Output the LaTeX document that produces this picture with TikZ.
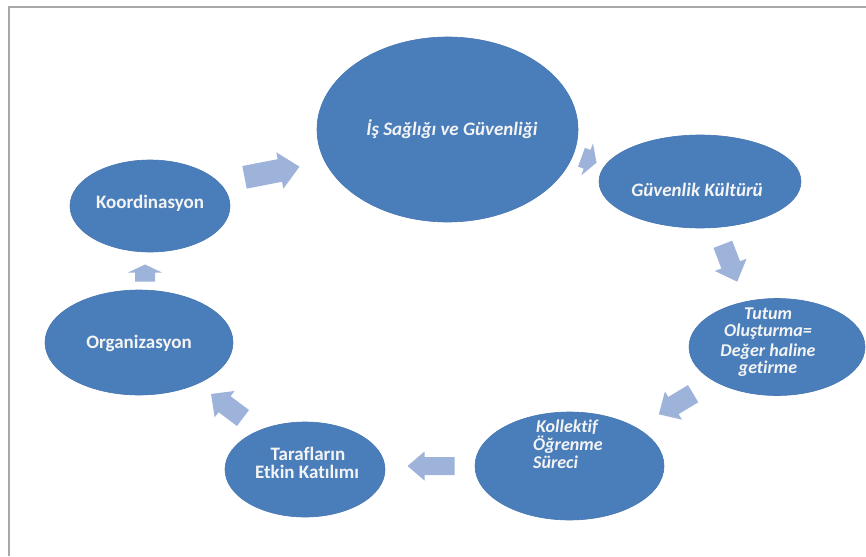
\documentclass[tikz,border=0pt]{standalone}
\usepackage{fontspec}
\setmainfont{Carlito}[Ligatures={NoCommon}]
\usetikzlibrary{shapes.geometric}
\definecolor{ellblue}{HTML}{4A7EBB}
\definecolor{ellline}{HTML}{4676B2}
\definecolor{arrblue}{HTML}{9EB3D9}
\definecolor{framegray}{HTML}{A8A8A8}
\definecolor{txtwhite}{HTML}{F4F4F4}
% #1 x, #2 y, #3 angle, #4 length, #5 head width, #6 shaft width, #7 head length
\newcommand\blockarrow[7]{%
  \fill[arrblue,shift={(#1,#2)},rotate=#3]
    ({-#4/2},{-#6/2}) -- ({#4/2-#7},{-#6/2}) -- ({#4/2-#7},{-#5/2}) --
    ({#4/2},0) -- ({#4/2-#7},{#5/2}) -- ({#4/2-#7},{#6/2}) -- ({-#4/2},{#6/2}) -- cycle;}
\tikzset{
  ell/.style={ellipse, fill=ellblue, draw=ellline, line width=0.6pt, inner sep=0pt},
  lbl/.style={text=txtwhite, font=\fontsize{19}{19}\selectfont\bfseries, inner sep=0pt},
  lbli/.style={lbl, font=\fontsize{19}{19}\selectfont\bfseries\itshape},
  lblm/.style={lbl, font=\fontsize{18}{18}\selectfont\bfseries\itshape},
}
\begin{document}
\begin{tikzpicture}[x=1pt,y=-1pt]
\useasboundingbox (0,0) rectangle (866,556);
\fill[white] (0,0) rectangle (866,556);
\draw[framegray, line width=2pt] (9,556) -- (9,7) -- (866,7);

% ellipses
\node[ell, minimum width=261pt, minimum height=185pt] (isg) at (447.5,129.5) {};
\node[ell, minimum width=202pt, minimum height=93pt] (gk) at (700,181.5) {};
\node[ell, minimum width=176pt, minimum height=97pt] (tutum) at (777,347) {};
\node[ell, minimum width=189pt, minimum height=108pt] (kol) at (569.5,466) {};
\node[ell, minimum width=160pt, minimum height=95pt] (tar) at (305,469.5) {};
\node[ell, minimum width=188pt, minimum height=105pt] (org) at (139,342.5) {};
\node[ell, minimum width=160pt, minimum height=92pt] (koord) at (150,206) {};

% texts
\node[lbli, anchor=base] (t-isg) at (452,136) {İş Sağlığı ve Güvenliği};
\node[lbli, anchor=base] (t-gk) at (697,196) {Güvenlik Kültürü};
\node[lblm, anchor=base] (t-tu1) at (768,319) {Tutum};
\node[lblm, anchor=base] (t-tu2) at (768,336) {Oluşturma=};
\node[lblm, anchor=base] (t-tu3) at (768,356) {Değer haline};
\node[lblm, anchor=base] (t-tu4) at (768,373) {getirme};
\node[lblm, anchor=base west] (t-ko1) at (536,432) {Kollektif};
\node[lblm, anchor=base west] (t-ko2) at (533,450) {Öğrenme};
\node[lblm, anchor=base west] (t-ko3) at (533,468) {Süreci};
\node[lbl, anchor=base] (t-ta1) at (308,460) {Tarafların};
\node[lbl, anchor=base] (t-ta2) at (307,478) {Etkin Katılımı};
\node[lbl, anchor=base] (t-org) at (139,348) {Organizasyon};
\node[lbl, anchor=base] (t-koo) at (150,208) {Koordinasyon};

% block arrows
\blockarrow{272}{172}{11}{56}{37}{23}{20}
\blockarrow{589}{160}{-20}{16}{34}{20}{10}
\blockarrow{730}{263}{-69}{40}{34}{20}{18}
\blockarrow{676}{404}{211}{40}{33}{20}{17}
\blockarrow{431}{466}{180}{47}{29}{18}{17}
\blockarrow{227}{406}{143}{40}{33}{20}{17}
\blockarrow{145}{273}{90}{17}{34}{20}{8}
\end{tikzpicture}
\end{document}
